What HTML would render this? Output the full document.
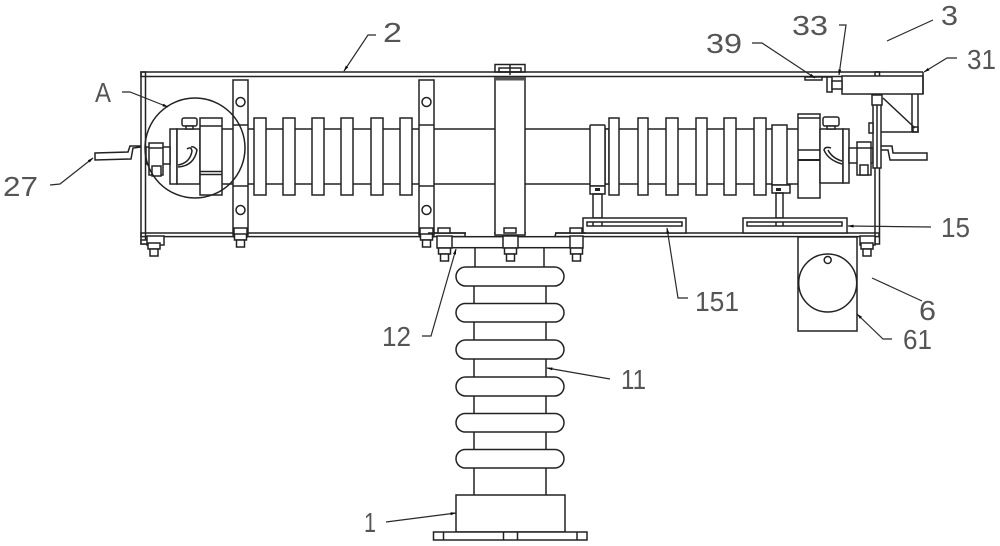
<!DOCTYPE html>
<html><head><meta charset="utf-8"><style>
html,body{margin:0;padding:0;background:#fff;width:1000px;height:546px;overflow:hidden}
svg{display:block}
.l{fill:none;stroke:#222;stroke-width:1.5}
.w{fill:#fff;stroke:#222;stroke-width:1.5}
.t{stroke:#2a2a2a;stroke-width:1.2;fill:none}
.a{marker-end:url(#ah)}
text{font-family:"Liberation Sans",sans-serif;font-size:28px;fill:#555}
</style></head><body>
<svg width="1000" height="546" viewBox="0 0 1000 546" xmlns="http://www.w3.org/2000/svg">
<defs><filter id="b"><feGaussianBlur stdDeviation="0.35"/></filter>
<marker id="ah" markerWidth="6" markerHeight="4" refX="5.500" refY="2" orient="auto" markerUnits="userSpaceOnUse"><path d="M0 0.500L6 2L0 3.500Z" fill="#111"/></marker>
<g id="nut"><rect class="w" x="-6" y="0" width="12" height="6"/><rect class="w" x="-4" y="6" width="8" height="7"/></g>
</defs>
<g filter="url(#b)">
<!-- frame -->
<rect class="l" x="141" y="72" width="738" height="4.5"/>
<rect class="l" x="141" y="72" width="4.5" height="172"/>
<rect class="w" x="875" y="72" width="4.5" height="172"/>
<rect class="l" x="141" y="233" width="738" height="3.6"/>
<rect class="w" x="141" y="240" width="12" height="4"/>
<rect class="w" x="147" y="236" width="17" height="9"/>
<use href="#nut" x="154" y="243"/>
<rect class="w" x="860" y="236" width="15" height="9"/>
<use href="#nut" x="867" y="243"/>

<!-- main rod -->
<line class="l" x1="222" y1="129" x2="798" y2="129"/>
<line class="l" x1="222" y1="184" x2="798" y2="184"/>

<!-- fins left -->
<rect class="w" x="254" y="118" width="12" height="77"/>
<rect class="w" x="283" y="118" width="12" height="77"/>
<rect class="w" x="312" y="118" width="12" height="77"/>
<rect class="w" x="341" y="118" width="12" height="77"/>
<rect class="w" x="371" y="118" width="12" height="77"/>
<rect class="w" x="400" y="118" width="12" height="77"/>

<!-- straps -->
<rect class="w" x="233" y="80" width="15" height="155"/>
<rect class="w" x="419" y="80" width="15" height="155"/>
<line class="l" x1="233" y1="125" x2="248" y2="125"/>
<line class="l" x1="233" y1="186" x2="248" y2="186"/>
<line class="l" x1="419" y1="125" x2="434" y2="125"/>
<line class="l" x1="419" y1="186" x2="434" y2="186"/>
<circle class="l" cx="240.500" cy="102" r="4.500"/>
<circle class="l" cx="240.500" cy="210" r="4.500"/>
<circle class="l" cx="426.500" cy="102" r="4.500"/>
<circle class="l" cx="426.500" cy="210" r="4.500"/>
<rect class="w" x="234" y="228" width="13" height="9"/>
<use href="#nut" x="240.500" y="234"/>
<rect class="w" x="420" y="228" width="13" height="9"/>
<use href="#nut" x="426.500" y="234"/>

<!-- left end -->
<rect class="w" x="170" y="129" width="7" height="55"/>
<rect class="w" x="177" y="129" width="23" height="55"/>
<rect class="w" x="200" y="118" width="22" height="77"/>
<line class="l" x1="200" y1="126" x2="222" y2="126"/>
<line class="l" x1="200" y1="171.500" x2="222" y2="171.500"/>
<line class="l" x1="200" y1="174.500" x2="222" y2="174.500"/>
<rect class="w" x="182" y="118" width="15" height="8" rx="2"/>
<rect class="w" x="186" y="126" width="7" height="3"/>
<rect class="w" x="146" y="147" width="24" height="17"/>
<rect class="w" x="149" y="143" width="14" height="32"/>
<rect class="w" x="152" y="166" width="9" height="10"/>
<line class="l" x1="149" y1="148" x2="163" y2="148"/>
<path class="l" d="M178 165 Q190 163 192 151 Q191 146 187 149"/>
<path class="l" d="M178 167 Q194 166 197 150 Q194 146 191 147"/>
<polyline class="l" points="141,146 130,146 128,152 95,153 95,160 131,159 133,148 141,147"/>
<circle class="l" cx="195" cy="148" r="50"/>

<!-- center column -->
<rect class="w" x="495" y="77" width="30" height="158"/>
<rect class="l" x="495" y="64.500" width="30" height="7.500"/>
<rect class="l" x="499" y="68" width="22" height="4"/>
<line class="l" x1="510" y1="65" x2="510" y2="75"/>
<rect x="495" y="77" width="30" height="3.500" fill="#555"/>

<!-- right fins -->
<rect class="w" x="605" y="129" width="4" height="55"/>
<rect class="w" x="609" y="118" width="10" height="77"/>
<rect class="w" x="638" y="118" width="10" height="77"/>
<rect class="w" x="666" y="118" width="12" height="77"/>
<rect class="w" x="696" y="118" width="11" height="77"/>
<rect class="w" x="724" y="118" width="12" height="77"/>
<rect class="w" x="754" y="118" width="12" height="77"/>
<rect class="w" x="590" y="125" width="15" height="61" rx="1"/>
<rect class="w" x="590" y="186" width="15" height="8"/>
<rect class="w" x="772" y="125" width="15" height="60"/>
<rect class="w" x="772" y="185" width="18" height="8"/>
<rect class="l" x="593" y="194" width="9" height="24"/>
<rect class="l" x="776" y="193" width="7" height="25"/>
<rect x="595" y="188" width="5" height="3" fill="#222"/>
<rect x="776" y="188" width="5" height="3" fill="#222"/>

<!-- right end -->
<rect class="w" x="798" y="114" width="22" height="84"/>
<line class="l" x1="798" y1="118" x2="820" y2="118"/>
<line class="l" x1="798" y1="150" x2="820" y2="150"/>
<line x1="798" y1="160" x2="820" y2="160" stroke="#222" stroke-width="2"/>
<rect class="w" x="820" y="129" width="23" height="54"/>
<rect class="w" x="843" y="129" width="6" height="54"/>
<rect class="w" x="823" y="117" width="16" height="9" rx="2"/>
<rect class="w" x="827" y="126" width="8" height="3"/>
<rect class="w" x="849" y="148" width="24" height="15"/>
<rect class="w" x="857" y="142" width="14" height="33"/>
<rect class="w" x="860" y="165" width="8" height="10"/>
<line class="l" x1="857" y1="148" x2="871" y2="148"/>
<path class="l" d="M842 164 Q828 160 824 150 Q825 146 831 148"/>
<path class="l" d="M842 161 Q832 158 828 150"/>
<polyline class="l" points="881,146 892,146 893,153 927,153 927,160 890,160 888,150 881,150"/>

<!-- top right assembly -->
<rect class="w" x="842" y="76" width="81" height="18"/>
<line class="l" x1="875" y1="72" x2="923" y2="72"/>
<line class="l" x1="923" y1="72" x2="923" y2="94"/>
<rect class="w" x="827" y="77" width="5" height="15"/>
<rect class="w" x="832" y="81" width="10" height="8"/>
<rect class="w" x="805" y="77" width="17" height="3"/>
<line class="l" x1="822" y1="77" x2="827" y2="77"/>
<rect class="w" x="873" y="95" width="8" height="73"/>
<line class="l" x1="877" y1="95" x2="877" y2="168"/>
<rect class="w" x="872" y="95" width="10" height="10"/>
<rect class="w" x="869" y="123" width="4" height="10"/>
<polyline class="l" points="883,98 915,128"/>
<polyline class="l" points="912,94 912,132 881,132"/>
<polyline class="l" points="918,94 918,132 912,132"/>
<rect class="l" x="913" y="127" width="5" height="5"/>

<!-- sliding plates -->
<rect class="w" x="583" y="218" width="103" height="15"/>
<rect class="l" x="587" y="222" width="95" height="4"/>
<rect class="w" x="743" y="218" width="104" height="15"/>
<rect class="l" x="747" y="222" width="95" height="4"/>
<line class="l" x1="593" y1="222" x2="593" y2="226"/>
<line class="l" x1="602" y1="222" x2="602" y2="226"/>
<line class="l" x1="776" y1="222" x2="776" y2="226"/>
<line class="l" x1="783" y1="222" x2="783" y2="226"/>

<!-- flange -->
<rect fill="#fff" x="466" y="232" width="28" height="4"/>
<rect fill="#fff" x="526" y="232" width="29" height="4"/>
<polyline class="l" points="428,233 465,233 465,236"/>
<polyline class="l" points="555,236 556,233 586,233"/>
<rect class="w" x="445" y="236.700" width="130" height="11"/>
<rect class="w" x="437" y="236" width="15" height="12"/>
<rect class="w" x="503" y="236" width="15" height="12"/>
<rect class="w" x="570" y="236" width="13" height="12"/>
<rect class="w" x="438" y="228" width="12" height="5"/>
<rect class="w" x="504" y="228" width="12" height="5"/>
<rect class="w" x="570" y="228" width="12" height="5"/>
<use href="#nut" x="444.500" y="248"/>
<use href="#nut" x="510.500" y="248"/>
<use href="#nut" x="576.500" y="248"/>

<!-- insulator -->
<line class="l" x1="475" y1="248" x2="475" y2="267"/>
<line class="l" x1="544" y1="248" x2="544" y2="267"/>
<line class="l" x1="474" y1="286" x2="474" y2="495"/>
<line class="l" x1="546" y1="286" x2="546" y2="495"/>
<rect class="w" x="456" y="267" width="108" height="19" rx="9.500"/>
<rect class="w" x="456" y="303.500" width="108" height="18.500" rx="9.200"/>
<rect class="w" x="456" y="340" width="108" height="19" rx="9.500"/>
<rect class="w" x="456" y="377" width="108" height="19" rx="9.500"/>
<rect class="w" x="456" y="413.500" width="108" height="18.500" rx="9.200"/>
<rect class="w" x="456" y="449.500" width="108" height="18.500" rx="9.200"/>
<rect class="w" x="456" y="495" width="109" height="37"/>
<rect class="w" x="433.500" y="532" width="153.500" height="8"/>
<line class="l" x1="443.500" y1="532" x2="443.500" y2="540"/>
<line class="l" x1="503.500" y1="532" x2="503.500" y2="540"/>
<line class="l" x1="517.500" y1="532" x2="517.500" y2="540"/>
<line class="l" x1="577" y1="532" x2="577" y2="540"/>

<!-- box 61 -->
<rect class="w" x="798" y="237" width="59" height="94"/>
<circle class="l" cx="827.700" cy="283" r="29"/>
<circle class="l" cx="827.700" cy="260" r="3.500"/>

<!-- leaders -->
<polyline class="t a" points="376,35 368,35 344,71"/>
<polyline class="t a" points="122,92 130,92 168,107"/>
<polyline class="t a" points="50,185 60,184 93,158"/>
<polyline class="t a" points="752,43 762,43 815,78"/>
<polyline class="t a" points="839,25 846,25 839,75"/>
<polyline class="t" points="887,41 933,20"/>
<polyline class="t a" points="957,58 947,58 924,72"/>
<polyline class="t a" points="931,227 848,226"/>
<polyline class="t a" points="688,298 678,298 667,228"/>
<polyline class="t a" points="422,336 431,336 456,249"/>
<polyline class="t a" points="610,379 547,368"/>
<polyline class="t a" points="386,522 456,513"/>
<polyline class="t" points="872,278 922,301"/>
<polyline class="t a" points="892,339 883,339 857,314"/>

<!-- labels -->
<text x="383" y="42" textLength="19" lengthAdjust="spacingAndGlyphs">2</text>
<text x="95" y="102" textLength="16" lengthAdjust="spacingAndGlyphs">A</text>
<text x="3" y="196" textLength="35" lengthAdjust="spacingAndGlyphs">27</text>
<text x="706" y="53" textLength="36" lengthAdjust="spacingAndGlyphs">39</text>
<text x="792" y="35" textLength="36" lengthAdjust="spacingAndGlyphs">33</text>
<text x="941" y="25" textLength="17" lengthAdjust="spacingAndGlyphs">3</text>
<text x="967" y="69" textLength="29" lengthAdjust="spacingAndGlyphs">31</text>
<text x="941" y="237" textLength="29" lengthAdjust="spacingAndGlyphs">15</text>
<text x="695" y="311" textLength="44" lengthAdjust="spacingAndGlyphs">151</text>
<text x="382" y="346" textLength="29" lengthAdjust="spacingAndGlyphs">12</text>
<text x="621" y="389" textLength="25" lengthAdjust="spacingAndGlyphs">11</text>
<text x="364" y="532" textLength="12" lengthAdjust="spacingAndGlyphs">1</text>
<text x="919" y="320" textLength="17" lengthAdjust="spacingAndGlyphs">6</text>
<text x="903" y="349" textLength="29" lengthAdjust="spacingAndGlyphs">61</text>
</g>
</svg>
</body></html>
